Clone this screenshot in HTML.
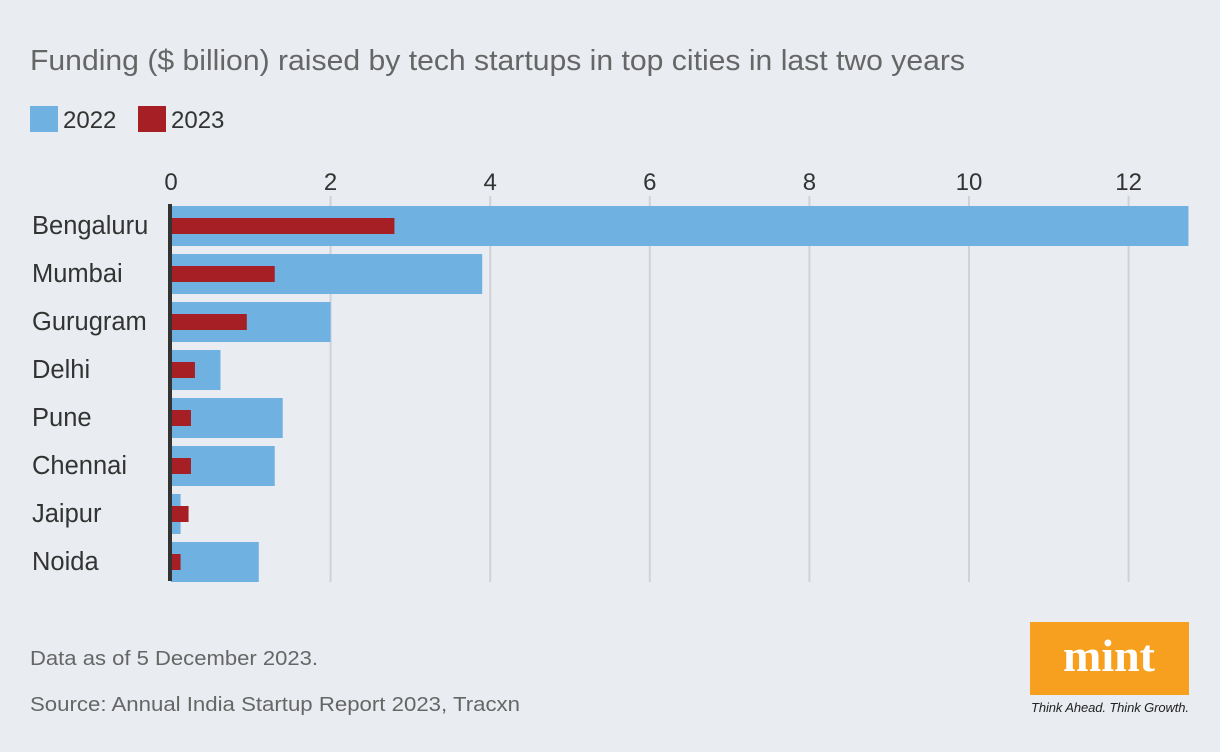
<!DOCTYPE html>
<html><head><meta charset="utf-8"><style>
body{margin:0;background:#e9ecf0;font-family:"Liberation Sans",sans-serif;}
svg{display:block}
</style></head><body>
<svg width="1220" height="752" id="chart">
<rect width="1220" height="752" fill="#e9ecf0"/>
<text x="30" y="70" font-size="29" fill="#666" textLength="935" lengthAdjust="spacingAndGlyphs">Funding ($ billion) raised by tech startups in top cities in last two years</text>
<g>
<rect x="30" y="106" width="28" height="26" fill="#6fb2e2"/>
<text x="63" y="128" font-size="24" fill="#333">2022</text>
<rect x="138" y="106" width="28" height="26" fill="#a51f24"/>
<text x="171" y="128" font-size="24" fill="#333">2023</text>
</g>
<g id="grid"></g><g id="bars"></g><g id="labels"></g>
<text x="30" y="665" font-size="20" fill="#666" textLength="288" lengthAdjust="spacingAndGlyphs">Data as of 5 December 2023.</text>
<text x="30" y="711" font-size="20" fill="#666" textLength="490" lengthAdjust="spacingAndGlyphs">Source: Annual India Startup Report 2023, Tracxn</text>
<g>
<rect x="1030" y="622" width="159" height="73" fill="#f7a01f"/>
<text x="1109" y="671" font-size="46" font-weight="bold" fill="#fff" text-anchor="middle" font-family="Liberation Serif,serif">mint</text>
<text x="1110" y="712" font-size="13" font-style="italic" fill="#222" text-anchor="middle" textLength="158">Think Ahead. Think Growth.</text>
</g>
</svg>
<script>
const cities=["Bengaluru","Mumbai","Gurugram","Delhi","Pune","Chennai","Jaipur","Noida"];
const v2022=[12.75,3.9,2.0,0.62,1.4,1.3,0.12,1.1];
const v2023=[2.8,1.3,0.95,0.3,0.25,0.25,0.22,0.12];
const ticks=[0,2,4,6,8,10,12];
const NS="http://www.w3.org/2000/svg";
const x=v=>171+v*79.8;
const rowY=i=>206+i*48;
function mk(tag,attrs,parent,txt){const e=document.createElementNS(NS,tag);for(const k in attrs)e.setAttribute(k,attrs[k]);if(txt!==undefined)e.textContent=txt;document.getElementById(parent).appendChild(e);return e;}
ticks.forEach(t=>{
  if(t>0){const l=mk('line',{x1:x(t),x2:x(t),y1:196,y2:582,stroke:'#cfd3d8','stroke-width':2},'grid');
  
  }
  const tx=mk('text',{x:x(t),y:190,'font-size':24,fill:'#333','text-anchor':'middle'},'grid',t);
  
  
});
cities.forEach((c,i)=>{
  const y=rowY(i);
  const b=mk('rect',{x:x(0),y:y,width:x(v2022[i])-x(0),height:40,fill:'#6fb2e2'},'bars');
  
  
  const r=mk('rect',{x:x(0),y:y+12,width:x(v2023[i])-x(0),height:16,fill:'#a51f24'},'bars');
  
  
  const t=mk('text',{x:32,y:y+28,'font-size':25.5,fill:'#333'},'labels',c);
  
  
});
const ax=mk('rect',{x:168,y:204,width:4,height:377,fill:'#333'},'bars');


</script>
</body></html>
